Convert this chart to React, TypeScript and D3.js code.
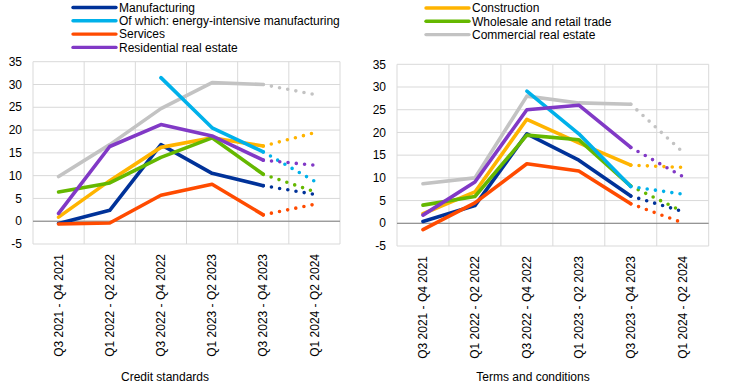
import React from 'react';
import * as d3 from 'd3';

const categories = [
  'Q3 2021 - Q4 2021',
  'Q1 2022 - Q2 2022',
  'Q3 2022 - Q4 2022',
  'Q1 2023 - Q2 2023',
  'Q3 2023 - Q4 2023',
  'Q1 2024 - Q2 2024',
];
const yTicks = [-5, 0, 5, 10, 15, 20, 25, 30, 35];

// credit standards
const manufacturingCS = [-0.5, 2.4, 16.8, 10.5, 7.8, 5.9];
const energyCS = [null, null, 31.5, 20.5, 15.2, 8.8];
const servicesCS = [-0.6, -0.4, 5.7, 8.1, 1.4, 3.7];
const residentialCS = [1.7, 16.4, 21.2, 18.7, 13.4, 12.3];
const constructionCS = [0.9, 8.9, 16.2, 18.3, 16.5, 19.4];
const wholesaleCS = [6.4, 8.4, 14.0, 18.3, 10.3, 6.5];
const commercialCS = [9.8, 16.8, 24.7, 30.4, 30.0, 27.8];

// terms and conditions
const manufacturingTC = [0.4, 3.9, 19.7, 13.9, 6.0, 2.6];
const energyTC = [null, null, 29.1, 19.7, 8.1, 6.4];
const servicesTC = [-1.4, 4.5, 13.1, 11.5, 4.3, 0.1];
const residentialTC = [1.8, 9.1, 25.0, 26.0, 16.7, 10.3];
const constructionTC = [2.1, 6.9, 22.9, 17.7, 12.8, 12.3];
const wholesaleTC = [4.0, 5.9, 19.4, 18.4, 8.2, 2.6];
const commercialTC = [8.7, 10.0, 28.0, 26.5, 26.2, 15.7];

const seriesNames = [
  'Manufacturing',
  'Of which: energy-intensive manufacturing',
  'Services',
  'Residential real estate',
  'Construction',
  'Wholesale and retail trade',
  'Commercial real estate',
];

const COLORS: Record<string, string> = {
  'Manufacturing': '#003299',
  'Of which: energy-intensive manufacturing': '#00b1ea',
  'Services': '#ff4b00',
  'Residential real estate': '#8139c6',
  'Construction': '#ffb400',
  'Wholesale and retail trade': '#65b800',
  'Commercial real estate': '#c3c3c3',
};

// bottom to top
const DRAW_ORDER = [
  'Commercial real estate',
  'Manufacturing',
  'Construction',
  'Wholesale and retail trade',
  'Services',
  'Of which: energy-intensive manufacturing',
  'Residential real estate',
];

const panelCS: Record<string, (number | null)[]> = {
  'Manufacturing': manufacturingCS,
  'Of which: energy-intensive manufacturing': energyCS,
  'Services': servicesCS,
  'Residential real estate': residentialCS,
  'Construction': constructionCS,
  'Wholesale and retail trade': wholesaleCS,
  'Commercial real estate': commercialCS,
};

const panelTC: Record<string, (number | null)[]> = {
  'Manufacturing': manufacturingTC,
  'Of which: energy-intensive manufacturing': energyTC,
  'Services': servicesTC,
  'Residential real estate': residentialTC,
  'Construction': constructionTC,
  'Wholesale and retail trade': wholesaleTC,
  'Commercial real estate': commercialTC,
};

const FONT = '"Liberation Sans", Arial, sans-serif';
const W = 744;
const H = 388;
const LW = 3.6;

interface PanelProps {
  data: Record<string, (number | null)[]>;
  left: number;
  right: number;
  top: number;
  bottom: number;
  title: string;
  titleX: number;
}

function Panel({ data, left, right, top, bottom, title, titleX }: PanelProps) {
  const x = d3.scaleBand<string>().domain(categories).range([left, right]);
  const y = d3.scaleLinear().domain([-5, 35]).range([bottom, top]);
  const cx = (c: string) => (x(c) ?? 0) + x.bandwidth() / 2;

  const line = d3.line<[string, number | null]>()
    .defined((d) => d[1] != null)
    .x((d) => cx(d[0]))
    .y((d) => y(d[1] as number));

  const nActual = categories.length - 1;

  return (
    <g>
      {yTicks.map((t) => (
        <line key={`g${t}`} x1={left} x2={right} y1={y(t)} y2={y(t)}
          stroke="#d9d9d9" strokeWidth={1} />
      ))}
      {categories.map((c, i) => (
        <line key={`v${i}`} x1={x(c)} x2={x(c)} y1={top} y2={bottom}
          stroke="#d9d9d9" strokeWidth={1} />
      ))}
      <line x1={right} x2={right} y1={top} y2={bottom} stroke="#d9d9d9" />
      <line x1={left} x2={right} y1={y(0)} y2={y(0)} stroke="#808080" strokeWidth={1} />

      {DRAW_ORDER.map((name) => {
        const vals = data[name];
        const pairs = categories.map((c, i) => [c, vals[i]] as [string, number | null]);
        const solid = line(pairs.slice(0, nActual)) ?? '';
        const dotted = line(pairs.slice(nActual - 1)) ?? '';
        return (
          <g key={name}>
            <path d={solid} fill="none" stroke={COLORS[name]} strokeWidth={LW}
              strokeLinejoin="round" strokeLinecap="round" />
            <path d={dotted} fill="none" stroke={COLORS[name]} strokeWidth={LW}
              strokeLinecap="round" strokeDasharray="0 8.3" />
          </g>
        );
      })}

      {yTicks.map((t) => (
        <text key={`t${t}`} x={left - 11} y={y(t)} dy="0.35em" textAnchor="end"
          fontSize={12} fontFamily={FONT} fill="#000">{t}</text>
      ))}
      {categories.map((c) => (
        <text key={`x${c}`} transform={`translate(${cx(c)},${bottom + 10}) rotate(-90)`}
          dy="0.35em" textAnchor="end" fontSize={12} fontFamily={FONT} fill="#000">{c}</text>
      ))}
      <text x={titleX} y={381} textAnchor="middle" fontSize={12} fontFamily={FONT} fill="#000">
        {title}
      </text>
    </g>
  );
}

function Legend({ names, x, y0 }: { names: string[]; x: number; y0: number }) {
  return (
    <g>
      {names.map((n, i) => {
        const yy = y0 + i * 13.3;
        return (
          <g key={n}>
            <line x1={x} x2={x + 43} y1={yy} y2={yy} stroke={COLORS[n]} strokeWidth={3.4}
              strokeLinecap="round" />
            <text x={x + 46} y={yy} dy="0.35em" fontSize={12} fontFamily={FONT} fill="#000">{n}</text>
          </g>
        );
      })}
    </g>
  );
}

export default function App() {
  return (
    <svg width={W} height={H} style={{ position: 'absolute', left: 0, top: 0, background: '#fff' }}>
      <rect width={W} height={H} fill="#fff" />
      <Legend names={seriesNames.slice(0, 4)} x={73} y0={7.5} />
      <Legend names={seriesNames.slice(4)} x={426} y0={8} />
      <Panel data={panelCS} left={33} right={340} top={61.7} bottom={244}
        title="Credit standards" titleX={165} />
      <Panel data={panelTC} left={397} right={708.7} top={64.3} bottom={246}
        title="Terms and conditions" titleX={533} />
    </svg>
  );
}
